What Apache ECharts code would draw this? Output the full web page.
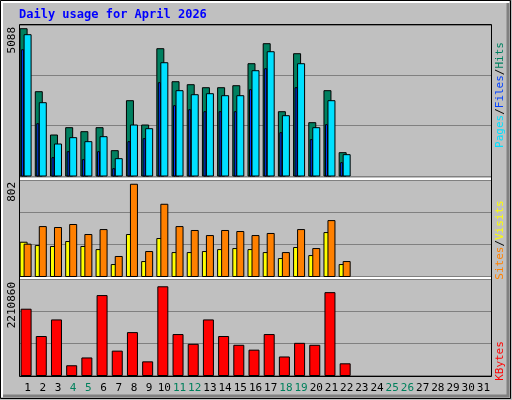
<!DOCTYPE html>
<html><head><meta charset="utf-8">
<script src="https://cdn.jsdelivr.net/npm/echarts@6/dist/echarts.min.js"></script>
<style>html,body{margin:0;padding:0;background:#c0c0c0}#c{width:512px;height:400px}</style>
</head><body><div id="c"></div>
<script>
var days = [];
for (var d = 1; d <= 31; d++) days.push(String(d));
var weekendDays = [4,5,11,12,18,19,25,26];
var hits  = [5088,2912,1416,1669,1531,1669,875,2601,1761,4397,3257,3154,3050,3050,3119,3879,4570,2221,4224,1842,2947,806];
var files = [4881,2532,1105,1324,1186,1358,599,1761,1634,3913,2947,2808,2843,2774,2774,3637,4293,2083,3879,1669,2601,737];
var pages = [4362,1807,633,840,564,840,253,1186,1289,3223,2429,2290,2221,2221,2221,2981,3706,1496,3050,1255,1773,460];
var visits = [281,434,426,452,365,408,174,802,217,628,434,400,356,400,391,356,374,208,408,243,486,130];
var sites  = [298,269,261,304,261,234,104,365,130,330,208,208,217,234,243,234,208,156,252,182,382,104];
var kbytes = [1652000,971800,1384800,242900,437300,1992100,607400,1069000,340100,2210860,1020300,777400,1384800,971800,753100,631600,1020300,461600,801700,753100,2065000,291500];
var maxLabels = ['5088','802','2210860'];
var title = 'Daily usage for April 2026';

var chart = echarts.init(document.getElementById('c'));
function barSeries(data, color, xi, off, w) {
  return {
    type: 'custom', xAxisIndex: xi, yAxisIndex: xi, data: data.map(function(v,i){return [i,v];}),
    renderItem: function(params, api) {
      var p = api.coord([api.value(0), api.value(1)]);
      var b = api.coord([api.value(0), 0]);
      return {type:'rect', shape:{x:p[0]+off, y:p[1], width:w, height:b[1]-p[1]},
        style:{fill:color, stroke:'#000', lineWidth:1}};
    }
  };
}
function grid(top, h){return {left:20, width:471, top:top, height:h};}
function xAx(i, show){return {type:'category', gridIndex:i, data:days, boundaryGap:true,
  axisLine:{show:false}, axisTick:{show:false}, splitLine:{show:false},
  axisLabel:{show:show, interval:0, margin:7, fontFamily:'DejaVu Sans Mono', fontSize:11,
    color:function(v){return weekendDays.indexOf(+v)>=0?'#00805c':'#000';}}};}
function yAx(i, max){return {type:'value', gridIndex:i, min:0, max:max, interval:max/3,
  axisLabel:{show:false}, axisLine:{show:false}, axisTick:{show:false},
  splitLine:{lineStyle:{color:'#808080', width:1}}};}
var mono = 'DejaVu Sans Mono';
function vtext(x, y, rich, parts){
  return {type:'text', x:x, y:y, rotation:Math.PI/2,
    style:{text:parts, rich:rich, font:'11px '+mono, align:'center', verticalAlign:'middle'}};
}
chart.setOption({
  backgroundColor:'#c0c0c0', animation:false,
  grid:[grid(25,151), grid(180,96.5), grid(279,96.5)],
  xAxis:[xAx(0,false), xAx(1,false), xAx(2,true)],
  yAxis:[yAx(0,5216), yAx(1,839), yAx(2,2405000)],
  series:[
    barSeries(hits,'#008060',0,-7.5,7),
    barSeries(files,'#00e0ff',0,-3.5,7),
    barSeries(pages,'#0040ff',0,-6,2),
    barSeries(sites,'#ffff00',1,-7.5,7),
    barSeries(visits,'#ff8000',1,-3.5,7),
    barSeries(kbytes,'#ff0000',2,-6.5,10)
  ],
  graphic:[
    {type:'rect', shape:{x:0.5,y:0.5,width:510,height:398}, style:{fill:null, stroke:'#000'}, silent:true},
    {type:'polyline', shape:{points:[[2,397],[2,2],[509,2]]}, style:{stroke:'#fff', lineWidth:2, fill:null}},
    {type:'polyline', shape:{points:[[3,396],[508,396],[508,3]]}, style:{stroke:'#808080', lineWidth:3, fill:null}},
    {type:'rect', shape:{x:19.5,y:24.5,width:472,height:352}, style:{fill:null, stroke:'#000', lineWidth:1}, z:10},
    {type:'line', shape:{x1:20,y1:179,x2:491,y2:179}, style:{stroke:'#fff', lineWidth:2}, z:10},
    {type:'line', shape:{x1:20,y1:278,x2:491,y2:278}, style:{stroke:'#fff', lineWidth:2}, z:10},
    {type:'text', x:19, y:9, style:{text:title, font:'bold 12px '+mono, fill:'#0000ff'}},
    {type:'text', x:7, y:27, rotation:Math.PI/2, style:{text:maxLabels[0], font:'11px '+mono, fill:'#000', align:'right', verticalAlign:'top'}},
    {type:'text', x:7, y:182, rotation:Math.PI/2, style:{text:maxLabels[1], font:'11px '+mono, fill:'#000', align:'right', verticalAlign:'top'}},
    {type:'text', x:7, y:282, rotation:Math.PI/2, style:{text:maxLabels[2], font:'11px '+mono, fill:'#000', align:'right', verticalAlign:'top'}},
    vtext(500, 95, {p:{fill:'#00e0ff'},f:{fill:'#0040ff'},h:{fill:'#008060'},s:{fill:'#000'}}, '{p|Pages}{s|/}{f|Files}{s|/}{h|Hits}'),
    vtext(500, 240, {a:{fill:'#ff8000'},b:{fill:'#ffff00'},s:{fill:'#000'}}, '{a|Sites}{s|/}{b|Visits}'),
    vtext(500, 361, {k:{fill:'#ff0000'}}, '{k|KBytes}')
  ]
});
</script></body></html>
